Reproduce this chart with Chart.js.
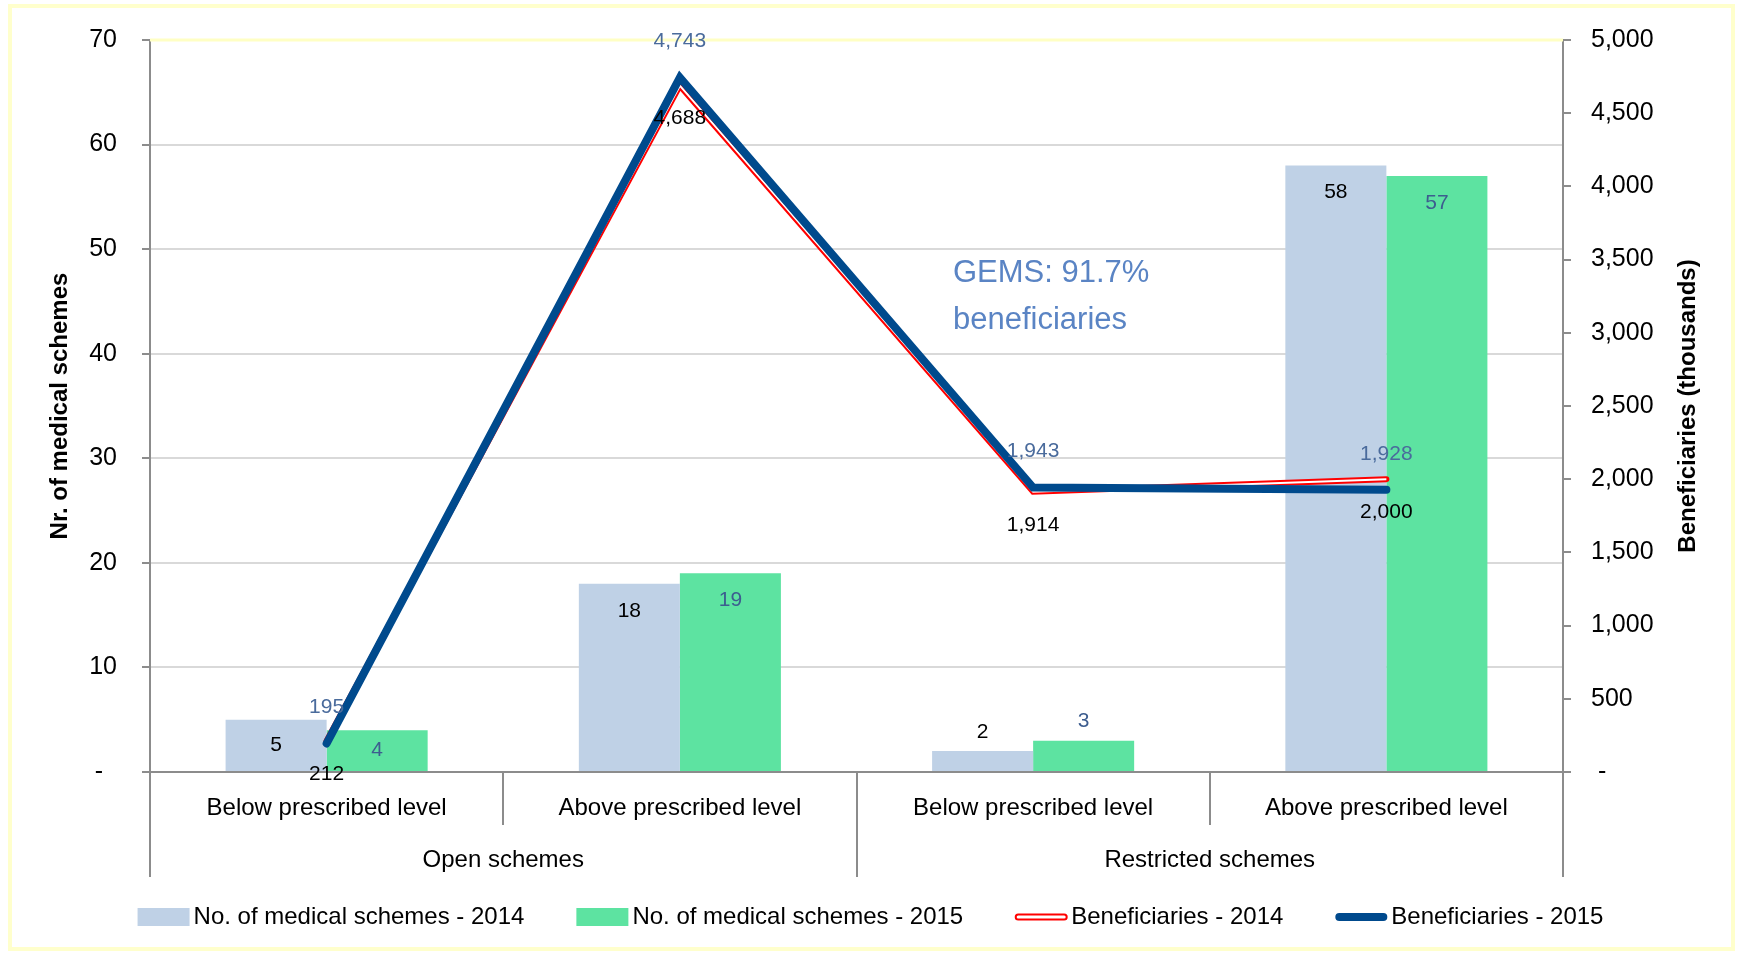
<!DOCTYPE html>
<html lang="en">
<head>
<meta charset="UTF-8" />
<title>Medical schemes and beneficiaries</title>
<script src="https://cdn.jsdelivr.net/npm/chart.js"></script>
<style>
  body { margin: 0; background: #fff; }
  #wrap { width: 1741px; height: 955px; }
</style>
</head>
<body>
<div id="wrap"><canvas id="schemesChart" width="1741" height="955"></canvas></div>
<script>
  // data
  const categories = ['Below prescribed level', 'Above prescribed level', 'Below prescribed level', 'Above prescribed level'];
  const groupLabels = ['Open schemes', 'Restricted schemes'];
  const schemes2014 = [5, 18, 2, 58];
  const schemes2015 = [4, 19, 3, 57];
  const benef2014 = [212, 4688, 1914, 2000];
  const benef2015 = [195, 4743, 1943, 1928];
  const noteLines = ['GEMS: 91.7%', 'beneficiaries'];
  const rightTitle = 'Beneficiaries (thousands)';

  const FONT = "'Liberation Sans', Arial, sans-serif";
  const fmt = v => v === 0 ? '-' : Number(v).toLocaleString('en-US');

  // white core for the 2014 line (double line look)
  const doubleLine = {
    id: 'doubleLine',
    afterDatasetDraw(chart, args) {
      const ds = chart.data.datasets[args.index];
      if (!ds.innerColor) return;
      const pts = args.meta.data;
      const ctx = chart.ctx;
      ctx.save();
      ctx.strokeStyle = ds.innerColor;
      ctx.lineWidth = 2;
      ctx.beginPath();
      pts.forEach((p, i) => i ? ctx.lineTo(p.x, p.y) : ctx.moveTo(p.x, p.y));
      ctx.stroke();
      ctx.restore();
    }
  };

  const valueLabels = {
    id: 'valueLabels',
    afterDatasetsDraw(chart) {
      const ctx = chart.ctx;
      ctx.save();
      ctx.font = '21px ' + FONT;
      ctx.textAlign = 'center';
      ctx.textBaseline = 'middle';
      chart.data.datasets.forEach((ds, di) => {
        const meta = chart.getDatasetMeta(di);
        ctx.fillStyle = ds.labelColor;
        meta.data.forEach((el, i) => {
          const txt = fmt(ds.data[i]);
          let y;
          if (ds.type === 'bar') {
            const h = el.base - el.y;
            y = h > 34 ? Math.min(el.y + 27, (el.y + el.base) / 2) : el.y - 19;
          } else {
            y = ds.labelBelow ? el.y + 33 : el.y - 36;
          }
          ctx.fillText(txt, el.x, y);
        });
      });
      ctx.restore();
    }
  };

  const decor = {
    id: 'decor',
    beforeDraw(chart) {
      const ctx = chart.ctx;
      ctx.save();
      ctx.fillStyle = '#fff';
      ctx.fillRect(0, 0, chart.width, chart.height);
      ctx.strokeStyle = '#ffffcc';
      ctx.lineWidth = 4;
      ctx.strokeRect(10, 6, 1723, 943);
      ctx.restore();
    },
    beforeDatasetsDraw(chart) {
      // plot top edge
      const ctx = chart.ctx;
      const a = chart.chartArea;
      ctx.save();
      ctx.strokeStyle = '#ffffc4';
      ctx.lineWidth = 3;
      ctx.beginPath();
      ctx.moveTo(a.left, a.top);
      ctx.lineTo(a.right, a.top);
      ctx.stroke();
      ctx.restore();
    },
    afterDraw(chart) {
      const ctx = chart.ctx;
      const a = chart.chartArea;
      const w = (a.right - a.left) / categories.length;
      ctx.save();
      // category separators
      ctx.strokeStyle = '#8c8c8c';
      ctx.lineWidth = 2;
      for (let k = 0; k <= categories.length; k++) {
        const x = Math.round(a.left + k * w);
        ctx.beginPath();
        ctx.moveTo(x, a.bottom);
        ctx.lineTo(x, a.bottom + (k % 2 ? 53 : 105));
        ctx.stroke();
      }
      // group labels
      ctx.fillStyle = '#000';
      ctx.font = '24px ' + FONT;
      ctx.textAlign = 'center';
      ctx.textBaseline = 'middle';
      groupLabels.forEach((g, i) => ctx.fillText(g, a.left + (2 * i + 1) * w, a.bottom + 88));
      // right axis title, reading bottom to top
      ctx.save();
      ctx.translate(1688, (a.top + a.bottom) / 2);
      ctx.rotate(-Math.PI / 2);
      ctx.font = 'bold 24px ' + FONT;
      ctx.fillText(rightTitle, 0, 0);
      ctx.restore();
      // note
      ctx.fillStyle = '#5a84c4';
      ctx.font = '31px ' + FONT;
      ctx.textAlign = 'left';
      noteLines.forEach((t, i) => ctx.fillText(t, 953, 273 + i * 47));
      // legend
      ctx.font = '24px ' + FONT;
      ctx.textBaseline = 'middle';
      const items = chart.data.datasets.slice().sort((p, q) => p.legendIndex - q.legendIndex);
      const sw = 52, gap = 52, ly = 917;
      const widths = items.map(d => sw + 4 + ctx.measureText(d.label).width);
      let x = chart.width / 2 - (widths.reduce((s, v) => s + v, 0) + gap * (items.length - 1)) / 2;
      items.forEach((d, i) => {
        if (d.type === 'bar') {
          ctx.fillStyle = d.backgroundColor;
          ctx.fillRect(x, ly - 9, sw, 18);
        } else if (d.innerColor) {
          ctx.strokeStyle = d.borderColor;
          ctx.lineWidth = 7;
          ctx.lineCap = 'round';
          ctx.beginPath(); ctx.moveTo(x + 3, ly); ctx.lineTo(x + sw - 3, ly); ctx.stroke();
          ctx.strokeStyle = d.innerColor;
          ctx.lineWidth = 3;
          ctx.beginPath(); ctx.moveTo(x + 3, ly); ctx.lineTo(x + sw - 3, ly); ctx.stroke();
        } else {
          ctx.strokeStyle = d.borderColor;
          ctx.lineWidth = 8;
          ctx.lineCap = 'round';
          ctx.beginPath(); ctx.moveTo(x + 4, ly); ctx.lineTo(x + sw - 4, ly); ctx.stroke();
        }
        ctx.fillStyle = '#000';
        ctx.fillText(d.label, x + sw + 4, ly);
        x += widths[i] + gap;
      });
      ctx.restore();
    }
  };

  const ctx = document.getElementById('schemesChart').getContext('2d');
  Chart.defaults.font.family = FONT;
  Chart.defaults.color = '#000';

  const chart = new Chart(ctx, {
    data: {
      labels: categories,
      datasets: [
        {
          type: 'line', label: 'Beneficiaries - 2015', data: benef2015, yAxisID: 'yR',
          borderColor: '#004a8d', borderWidth: 8, pointRadius: 0, tension: 0,
          borderCapStyle: 'round', borderJoinStyle: 'miter',
          labelColor: '#4a6b9c', labelBelow: false, order: 0, legendIndex: 3
        },
        {
          type: 'line', label: 'Beneficiaries - 2014', data: benef2014, yAxisID: 'yR',
          borderColor: '#ff0000', borderWidth: 6, pointRadius: 0, tension: 0,
          borderCapStyle: 'round', borderJoinStyle: 'miter', innerColor: '#ffffff',
          labelColor: '#000000', labelBelow: true, order: 1, legendIndex: 2
        },
        {
          type: 'bar', label: 'No. of medical schemes - 2014', data: schemes2014, yAxisID: 'yL',
          backgroundColor: '#bfd1e6', categoryPercentage: 0.572, barPercentage: 1,
          labelColor: '#000000', order: 2, legendIndex: 0
        },
        {
          type: 'bar', label: 'No. of medical schemes - 2015', data: schemes2015, yAxisID: 'yL',
          backgroundColor: '#5de3a1', categoryPercentage: 0.572, barPercentage: 1,
          labelColor: '#3d5d8f', order: 3, legendIndex: 1
        }
      ]
    },
    options: {
      responsive: false,
      animation: false,
      layout: { padding: { top: 37, left: 0, right: 0, bottom: 0 } },
      plugins: { legend: { display: false }, tooltip: { enabled: false } },
      scales: {
        x: {
          grid: { display: false },
          border: { display: false },
          ticks: { font: { size: 24 }, padding: 14, maxRotation: 0 },
          afterFit: s => { s.height = 183; }
        },
        yL: {
          position: 'left', min: 0, max: 70,
          ticks: { stepSize: 10, font: { size: 25 }, padding: 25, callback: v => v === 0 ? '-  ' : fmt(v) },
          grid: { color: c => c.tick && c.tick.value === 0 ? '#8c8c8c' : '#d9d9d9', lineWidth: 2, tickLength: 8,
                  tickColor: '#8c8c8c' },
          border: { color: '#8c8c8c', width: 2 },
          title: { display: true, text: 'Nr. of medical schemes', font: { size: 24, weight: 'bold' }, padding: { top: 46, bottom: 0 } },
          afterFit: s => { s.width = 150; }
        },
        yR: {
          position: 'right', min: 0, max: 5000,
          ticks: { stepSize: 500, font: { size: 25 }, padding: 20, callback: v => v === 0 ? ' -' : fmt(v) },
          grid: { drawOnChartArea: false, tickLength: 8, color: '#8c8c8c', lineWidth: 2 },
          border: { color: '#8c8c8c', width: 2 },
          afterFit: s => { s.width = 178; }
        }
      }
    },
    plugins: [decor, doubleLine, valueLabels]
  });
</script>
</body>
</html>
